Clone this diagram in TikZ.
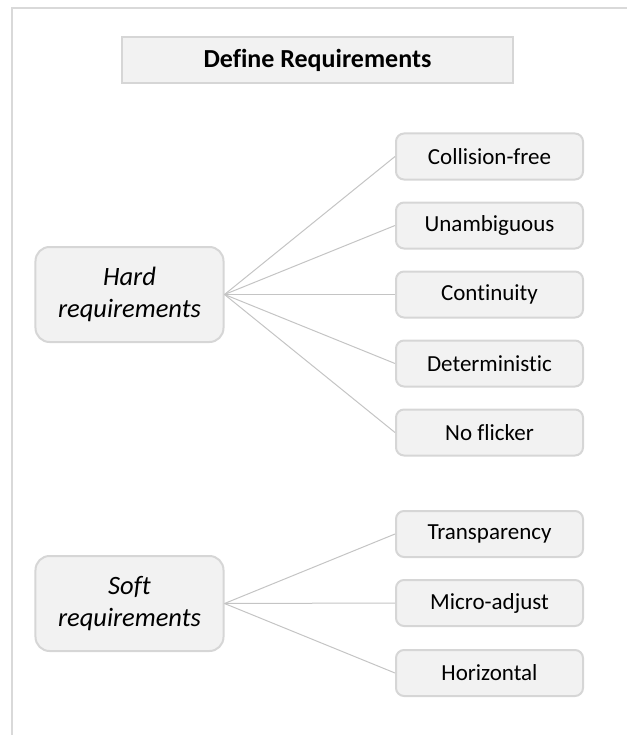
\documentclass[tikz,border=0pt]{standalone}
\usepackage{fontspec}
\setmainfont[Ligatures=NoCommon]{Carlito}
\definecolor{boxfill}{HTML}{F2F2F2}
\definecolor{boxline}{HTML}{D6D6D6}
\definecolor{linkline}{HTML}{C4C4C4}
\definecolor{frameline}{HTML}{D9D9D9}
\tikzset{
  titlebox/.style={draw=boxline, fill=boxfill, line width=2bp,
    minimum width=391bp, minimum height=46bp, inner sep=0pt,
    font=\fontsize{26bp}{30bp}\selectfont\bfseries},
  groupbox/.style={draw=boxline, fill=boxfill, line width=2bp,
    rounded corners=14bp, minimum width=188bp, minimum height=95bp,
    inner sep=0pt, align=center,
    font=\fontsize{26.5bp}{32bp}\selectfont\itshape},
  leafbox/.style={draw=boxline, fill=boxfill, line width=2bp,
    rounded corners=8bp, minimum width=187bp, minimum height=46bp,
    inner sep=0pt, font=\fontsize{23bp}{27bp}\selectfont},
  link/.style={draw=linkline, line width=1bp},
}
\begin{document}
\begin{tikzpicture}[x=1bp, y=-1bp]
  \useasboundingbox (0,0) rectangle (627,735);
  % open frame along the top and left edges
  \draw[frameline, line width=2bp] (627,8) -- (12,8) -- (12,735);

  \node[titlebox] (title) at (317.5,60) {Define Requirements};

  \node[groupbox] (hard) at (129.5,294.5) {Hard\\requirements};
  \node[groupbox] (soft) at (129.5,603.5) {Soft\\requirements};

  \node[leafbox] (collision) at (489.5,156.5) {Collision-free};
  \node[leafbox] (unamb)     at (489.5,225.5) {Unambiguous};
  \node[leafbox] (cont)      at (489.5,294.5) {Continuity};
  \node[leafbox] (determ)    at (489.5,363.5) {Deterministic};
  \node[leafbox] (flicker)   at (489.5,432.5) {No flicker};

  \node[leafbox] (transp)    at (489.5,534) {Transparency};
  \node[leafbox] (micro)     at (489.5,603) {Micro-adjust};
  \node[leafbox] (horiz)     at (489.5,673) {Horizontal};

  \foreach \leaf in {collision,unamb,cont,determ,flicker}
    \draw[link] (hard.east) -- (\leaf.west);
  \foreach \leaf in {transp,micro,horiz}
    \draw[link] (soft.east) -- (\leaf.west);
\end{tikzpicture}
\end{document}
